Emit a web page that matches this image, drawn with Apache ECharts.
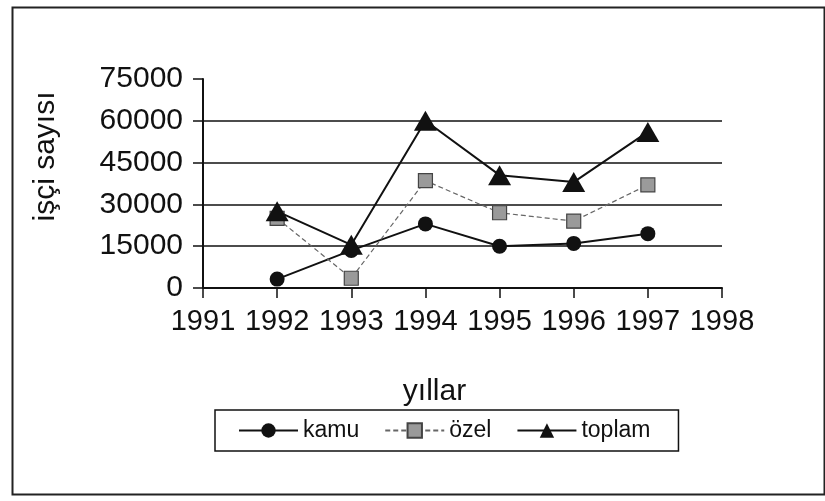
<!DOCTYPE html>
<html>
<head>
<meta charset="utf-8">
<script src="https://cdn.jsdelivr.net/npm/echarts@6/dist/echarts.min.js"></script>
<style>
    html, body { margin: 0; padding: 0; background: #fff; }
    #main { width: 825px; height: 501px; }
</style>
</head>
<body>
<div id="main"></div>
<script>
    // veriler
    var years = [1992, 1993, 1994, 1995, 1996, 1997];
    var kamu = [3200, 13500, 23000, 15000, 16000, 19500];
    var ozel = [25000, 3500, 38500, 27000, 24000, 37000];
    var toplam = [27500, 15500, 60000, 40500, 38000, 56000];
    var xTicks = [1991, 1992, 1993, 1994, 1995, 1996, 1997, 1998];
    var yTicks = [0, 15000, 30000, 45000, 60000, 75000];
    var seriesNames = ['kamu', 'özel', 'toplam'];

    function pairs(vals) {
        return years.map(function (y, i) { return [y, vals[i]]; });
    }

    var font = 'Liberation Sans, Arial, sans-serif';
    var myChart = echarts.init(document.getElementById('main'));

    var option = {
        animation: false,
        backgroundColor: '#fff',
        graphic: [{
            type: 'rect',
            left: 10, top: 5,
            shape: { width: 812, height: 487 },
            style: { fill: 'none', stroke: '#222', lineWidth: 2 },
            silent: true, z: -10
        }],
        grid: { left: 203, right: 103, top: 79, bottom: 213 },
        legend: {
            data: seriesNames,
            left: 215, top: 410,
            padding: [9, 28, 9, 23],
            borderColor: '#111', borderWidth: 1.5,
            itemWidth: 59, itemHeight: 18, itemGap: 25,
            textStyle: { fontFamily: font, fontSize: 23, color: '#111' }
        },
        xAxis: {
            type: 'value',
            min: xTicks[0], max: xTicks[xTicks.length - 1], interval: 1,
            name: 'yıllar', nameLocation: 'middle', nameGap: 89,
            nameTextStyle: { fontFamily: font, fontSize: 30, color: '#111', padding: [0, 56, 0, 0] },
            axisLine: { lineStyle: { color: '#111', width: 2 } },
            axisTick: { length: 10, lineStyle: { color: '#111', width: 1.5 } },
            axisLabel: {
                fontFamily: font, fontSize: 29, color: '#111', margin: 19,
                formatter: function (v) { return String(v); }
            },
            splitLine: { show: false }
        },
        yAxis: {
            type: 'value',
            min: yTicks[0], max: yTicks[yTicks.length - 1], interval: 15000,
            name: 'işçi sayısı', nameLocation: 'middle', nameGap: 142,
            nameTextStyle: { fontFamily: font, fontSize: 30, color: '#111', padding: [0, 0, 0, 54] },
            axisLine: { show: true, lineStyle: { color: '#111', width: 2 } },
            axisTick: { show: true, length: 10, lineStyle: { color: '#111', width: 1.5 } },
            axisLabel: {
                fontFamily: font, fontSize: 30, color: '#111', margin: 20,
                formatter: function (v) { return String(v); }
            },
            splitLine: {
                show: true, showMinLine: false, showMaxLine: false,
                lineStyle: { color: '#111', width: 1.5 }
            }
        },
        series: [
            {
                name: 'kamu',
                type: 'line',
                data: pairs(kamu),
                symbol: 'circle', symbolSize: 15,
                lineStyle: { color: '#111', width: 2 },
                itemStyle: { color: '#111' }
            },
            {
                name: 'özel',
                type: 'line',
                data: pairs(ozel),
                symbol: 'rect', symbolSize: 14,
                lineStyle: { color: '#666', width: 1.2, type: [5, 3] },
                itemStyle: { color: '#9a9a9a', borderColor: '#444', borderWidth: 1.2 }
            },
            {
                name: 'toplam',
                type: 'line',
                data: pairs(toplam),
                symbol: 'triangle', symbolSize: [23, 20],
                lineStyle: { color: '#111', width: 2 },
                itemStyle: { color: '#111' }
            }
        ]
    };

    myChart.setOption(option);
</script>
</body>
</html>
